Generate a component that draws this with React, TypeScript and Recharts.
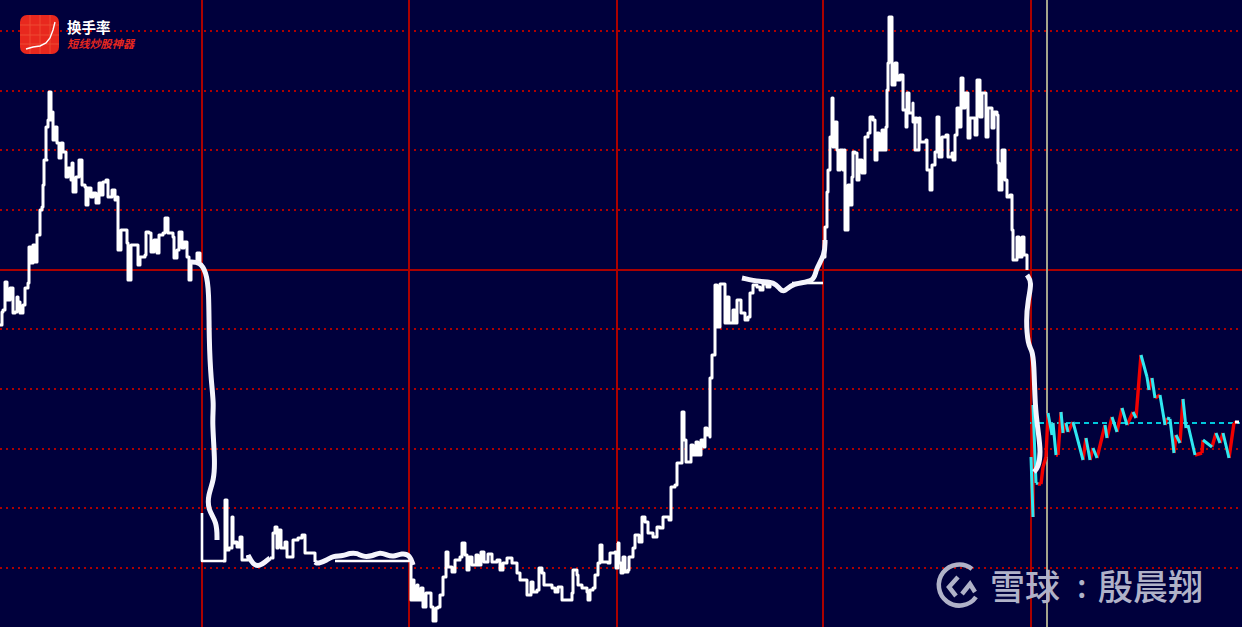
import React from 'react';
import { LineChart, Line, XAxis, YAxis, ReferenceLine } from 'recharts';

type P = [number, number];

const dottedLevels = [596, 536, 477, 417, 298, 238, 178, 119, 59];
const solidLevel = 357;
const sessionLines = [202, 409, 617, 823, 1031];
const cursorLine = 1047;

const session1: P[] = [[0,302],[2,315],[3,317],[5,345],[7,340],[7,327],[10,339],[13,334],[13,314],[15,315],[17,330],[18,325],[20,314],[23,322],[25,339],[28,344],[29,380],[31,364],[33,382],[35,365],[37,392],[40,417],[42,420],[43,442],[44,467],[47,467],[46,500],[48,507],[49,535],[51,507],[53,515],[53,487],[55,500],[57,499],[57,484],[59,469],[61,484],[63,475],[66,450],[68,459],[71,447],[72,464],[73,435],[76,450],[79,467],[82,442],[85,440],[86,422],[88,439],[91,430],[93,434],[96,424],[99,444],[101,432],[103,445],[106,447],[108,430],[112,437],[115,427],[117,430],[118,377],[121,397],[124,397],[127,384],[128,347],[131,382],[135,382],[138,362],[140,370],[145,372],[146,395],[149,394],[151,375],[154,387],[157,374],[159,392],[163,394],[165,409],[168,394],[173,390],[174,369],[177,377],[179,395],[182,379],[184,385],[187,370],[189,347],[191,365],[195,365],[197,374],[200,365]];
const fall1: P[] = [[190,365],[200,365],[206,355],[209,337],[209,287],[211,247],[214,222],[212,207],[215,167],[214,147],[208,132],[208,117],[217,105],[217,87]];
const box1: P[] = [[202,114],[202,66],[223,66]];
const session2a: P[] = [[223,66],[225,127],[227,77],[229,79],[232,110],[233,84],[235,85],[237,80],[240,90],[242,67],[245,67],[248,72]];
const flat2a: P[] = [[248,72],[253,62],[260,61],[265,65],[270,69]];
const session2b: P[] = [[270,69],[273,94],[275,100],[277,79],[278,97],[281,79],[285,85],[287,70],[290,70],[293,87],[298,89],[302,92],[305,74],[312,74],[315,65]];
const flat2b: P[] = [[315,65],[318,63],[327,67],[333,71],[343,71],[350,74],[357,74],[363,70],[373,71],[380,75],[387,72],[393,70],[402,74],[410,72],[413,62]];
const base2: P[] = [[335,66],[412,66]];
const session3: P[] = [[410,64],[411,27],[412,47],[414,27],[417,42],[418,27],[421,39],[423,20],[426,34],[429,34],[431,20],[433,6],[436,19],[438,20],[440,32],[443,50],[446,75],[448,60],[452,55],[455,67],[460,70],[462,84],[465,72],[467,57],[469,70],[472,62],[476,72],[478,62],[481,75],[484,65],[488,73],[492,65],[497,67],[500,57],[503,64],[507,69],[512,64],[517,54],[520,47],[524,47],[527,32],[531,45],[533,35],[537,37],[539,59],[542,54],[544,42],[552,39],[555,35],[558,40],[562,27],[568,27],[572,34],[573,57],[577,52],[578,42],[582,39],[587,35],[588,27],[590,37],[593,39],[595,52],[598,64],[600,82],[602,65],[608,64],[610,74],[615,75],[616,59],[618,84]];
const session4: P[] = [[617,84],[619,64],[621,54],[623,70],[625,55],[628,57],[629,70],[633,79],[635,92],[639,85],[642,110],[645,105],[648,94],[653,90],[657,100],[660,99],[663,110],[669,107],[671,140],[675,142],[677,164],[682,180],[682,215],[683,215],[684,187],[686,165],[689,165],[691,182],[693,172],[696,185],[698,172],[701,187],[704,180],[705,199],[707,192],[710,190],[710,249],[712,272],[715,274],[715,342],[717,300],[720,343],[723,343],[725,304],[727,330],[729,304],[731,304],[733,317],[735,304],[737,327],[739,327],[741,314],[745,307],[748,310],[750,334],[753,342],[757,340],[760,337],[763,343],[767,340],[770,344]];
const flat4: P[] = [[742,349],[760,345],[775,345],[780,337],[785,335],[792,344],[815,345],[815,357],[825,372],[825,387]];
const base4: P[] = [[792,344],[823,344]];
const session5: P[] = [[823,370],[825,400],[827,435],[828,457],[830,490],[832,529],[833,480],[835,505],[837,477],[838,457],[840,477],[843,457],[844,477],[845,397],[848,399],[848,442],[850,422],[852,450],[853,475],[855,474],[857,447],[859,467],[862,454],[865,454],[865,490],[868,494],[870,510],[873,507],[875,467],[877,494],[879,477],[882,497],[884,477],[886,500],[887,537],[888,564],[889,610],[892,567],[892,542],[895,564],[897,547],[900,552],[903,549],[903,517],[906,500],[907,534],[909,514],[913,524],[913,505],[917,509],[915,477],[919,509],[920,485],[926,487],[927,457],[930,437],[932,462],[935,475],[937,510],[939,470],[942,490],[946,492],[948,470],[952,474],[953,467],[955,492],[957,519],[959,500],[961,549],[963,519],[965,534],[968,489],[970,509],[975,492],[977,547],[980,510],[982,534],[986,490],[988,519],[992,499],[994,515],[997,512],[998,464],[999,437],[1002,477],[1005,447],[1007,430],[1010,432],[1012,397],[1013,367],[1017,390],[1019,370],[1022,390],[1024,372],[1027,372],[1027,357]];
const fall5: P[] = [[1027,352],[1032,345],[1028,327],[1026,307],[1028,282],[1032,277],[1034,265],[1035,220],[1038,197],[1041,174],[1038,159],[1034,155]];
const today: P[] = [[1031,170],[1033,110],[1033,222],[1036,144],[1038,143],[1041,143],[1043,160],[1046,170],[1048,214],[1052,192],[1053,204],[1056,172],[1058,172],[1061,215],[1063,194],[1066,204],[1068,195],[1073,205],[1077,190],[1083,167],[1086,189],[1090,167],[1093,179],[1097,169],[1105,202],[1107,189],[1112,210],[1117,195],[1122,219],[1127,202],[1133,215],[1136,209],[1141,272],[1147,250],[1149,237],[1152,249],[1155,229],[1160,232],[1165,202],[1167,209],[1170,208],[1174,174],[1176,192],[1180,184],[1183,228],[1186,199],[1188,202],[1195,172],[1202,174],[1203,187],[1212,180],[1216,194],[1220,184],[1223,194],[1229,169],[1234,204],[1237,205]];
const closeLine: P[] = [[1030,204],[1240,204]];
const tip: P[] = [[1235,205],[1239,205]];

const rows = (pts: P[]) => pts.map(([x, v]) => ({ x, v }));
const splitMoves = (pts: P[], rising: boolean) => {
  const out: { x: number; v: number | null }[] = [];
  for (let i = 1; i < pts.length; i++) {
    const up = pts[i][1] >= pts[i - 1][1];
    if (up !== rising) continue;
    out.push({ x: pts[i - 1][0], v: pts[i - 1][1] }, { x: pts[i][0], v: pts[i][1] }, { x: pts[i][0], v: null });
  }
  return out;
};

const jagged = [session1, session2a, session2b, session3, session4, session5];
const straight = [box1, base2, base4];
const thick = [fall1, flat2a, flat2b, flat4, fall5];

const BG = '#00003c';
const RED = '#ac0000';

const line = (key: string, data: any[], color: string, width: number, type: any, extra: any = {}) => (
  <Line key={key} data={data} dataKey="v" type={type} stroke={color} strokeWidth={width} dot={false} activeDot={false}
    isAnimationActive={false} legendType="none" strokeLinejoin="round" {...extra} />
);

export default function App() {
  return (
    <div style={{ position: 'fixed', left: 0, top: 0, width: 1242, height: 627, background: BG, overflow: 'hidden' }}>
      <LineChart width={1242} height={627} margin={{ top: 0, right: 0, bottom: 0, left: 0 }}>
        <XAxis type="number" dataKey="x" domain={[0, 1242]} hide allowDataOverflow />
        <YAxis type="number" domain={[0, 627]} hide allowDataOverflow />
        {dottedLevels.map((y) => <ReferenceLine key={y} y={y} stroke="#b00000" strokeWidth={1.8} strokeDasharray="2 4" />)}
        <ReferenceLine y={solidLevel} stroke={RED} strokeWidth={2} />
        {sessionLines.map((x) => <ReferenceLine key={x} x={x} stroke={RED} strokeWidth={2} />)}
        <ReferenceLine x={cursorLine} stroke="#a4a48c" strokeWidth={2} />
        {line('close', rows(closeLine), '#00c8dc', 1.8, 'linear', { strokeDasharray: '5 4' })}
        {line('up', splitMoves(today, true), '#f00000', 3.4, 'linear')}
        {line('down', splitMoves(today, false), '#30e8f0', 3, 'linear')}
        {line('tip', rows(tip), '#ffffff', 3, 'linear')}
        {jagged.map((s, i) => line('j' + i, rows(s), '#ffffff', 3, 'stepAfter'))}
        {straight.map((s, i) => line('s' + i, rows(s), '#ffffff', 2.6, 'linear'))}
        {thick.map((s, i) => line('k' + i, rows(s), '#f4f4fc', 5, 'basis'))}
      </LineChart>

      <svg width={1242} height={627} style={{ position: 'absolute', left: 0, top: 0, pointerEvents: 'none' }}>
        <rect x={20} y={15} width={39} height={39} rx={7} fill="#e8281e" />
        <path d="M20 25H59M20 35H59M20 44H59M30 15V54M40 15V54M50 15V54" stroke="#f25a3c" strokeWidth={1} opacity={0.7} />
        <path d="M26 49L33 47L40 46L46 43L50 38L53 30L55 22" fill="none" stroke="#fff" strokeWidth={1.4} />
        <text x={67} y={33} fill="#fff" fontSize={14.5} fontWeight={700} fontFamily="'Noto Sans CJK SC'">换手率</text>
        <text x={67} y={48} fill="#e8281e" fontSize={11.2} fontWeight={700} fontStyle="italic" fontFamily="'Noto Sans CJK SC'">短线炒股神器</text>

        <g fill="none" stroke="#b0b2c8" strokeWidth={4.5}>
          <path d="M972 569A20.5 20.5 0 1 0 976 597" />
          <path d="M958 577L949 587L956 596" />
          <path d="M962 594L970 584L975 592" />
        </g>
        <text x={990} y={600} fill="#b0b2c8" fontSize={35} fontWeight={500} fontFamily="'Noto Sans CJK SC'">雪球</text>
        <text x={1077} y={598} fill="#b0b2c8" fontSize={32} fontWeight={500} fontFamily="'Noto Sans CJK SC'">:</text>
        <text x={1098} y={600} fill="#b0b2c8" fontSize={35} fontWeight={500} fontFamily="'Noto Sans CJK SC'">殷晨翔</text>
      </svg>
    </div>
  );
}
